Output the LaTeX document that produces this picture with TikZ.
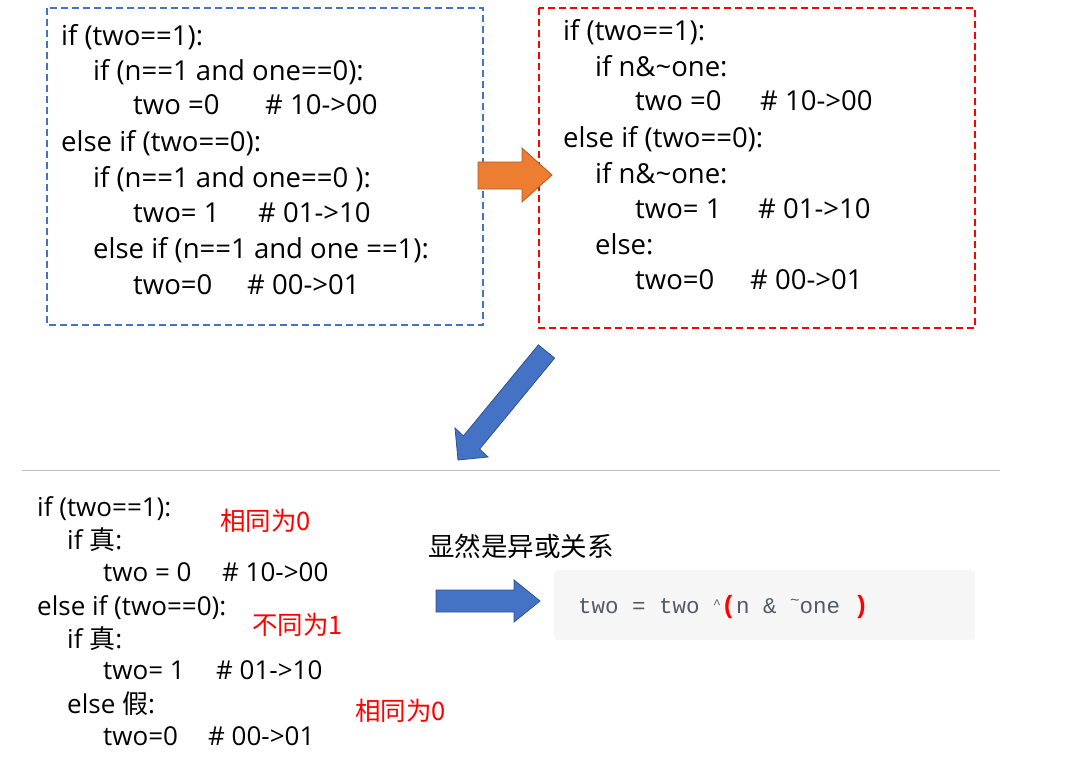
\documentclass[tikz,border=0pt]{standalone}
\usepackage{fontspec}
\setmainfont{Open Sans}
\newfontfamily\cjk{Noto Sans CJK SC}
\newfontfamily\codemono{Liberation Mono}
\definecolor{boxblue}{HTML}{4472C4}
\definecolor{arrblue}{HTML}{4472C4}
\definecolor{arredge}{HTML}{2F528F}
\definecolor{arrorange}{HTML}{ED7D31}
\definecolor{orangeedge}{HTML}{AE5A21}
\definecolor{codegray}{HTML}{F6F6F6}
\definecolor{codetext}{HTML}{555A60}
\begin{document}
\begin{tikzpicture}[x=1pt,y=-1pt,
  codeline/.style={anchor=base west,inner sep=0pt,font=\fontsize{27.5}{32}\selectfont},
  lowline/.style={anchor=base west,inner sep=0pt,font=\fontsize{26}{30}\selectfont},
  note/.style={anchor=base west,inner sep=0pt,text=red,font=\cjk\fontsize{25.5}{30}\selectfont},
  dashbox/.style={line width=1.6pt,dash pattern=on 7pt off 4pt},
  blockarrow/.style={line width=0.8pt}]
\useasboundingbox (0,0) rectangle (1070,765);
% top boxes
\draw[dashbox,boxblue] (47,8) rectangle (483,325);
\draw[dashbox,red] (539,8) rectangle (975,328);
% left box text
\node[codeline] (l1) at (61,46) {if (two==1):};
\node[codeline] (l2) at (93,81) {if (n==1 and one==0):};
\node[codeline] (l3) at (133,115) {two =0};
\node[codeline] (l3c) at (265,115) {\# 10->00};
\node[codeline] (l4) at (61,151) {else if (two==0):};
\node[codeline] (l5) at (93,187) {if (n==1 and one==0 ):};
\node[codeline] (l6) at (133,222) {two= 1};
\node[codeline] (l6c) at (258,222) {\# 01->10};
\node[codeline] (l7) at (93,258) {else if (n==1 and one ==1):};
\node[codeline] (l8) at (133,294) {two=0};
\node[codeline] (l8c) at (247,294) {\# 00->01};
% right box text
\node[codeline] (r1) at (563,41) {if (two==1):};
\node[codeline] (r2) at (595,77) {if n\&\textasciitilde one:};
\node[codeline] (r3) at (635,111) {two =0};
\node[codeline] (r3c) at (760,111) {\# 10->00};
\node[codeline] (r4) at (563,147) {else if (two==0):};
\node[codeline] (r5) at (595,183) {if n\&\textasciitilde one:};
\node[codeline] (r6) at (635,218) {two= 1};
\node[codeline] (r6c) at (758,218) {\# 01->10};
\node[codeline] (r7) at (595,254) {else:};
\node[codeline] (r8) at (635,289) {two=0};
\node[codeline] (r8c) at (750,289) {\# 00->01};
% orange arrow
\filldraw[blockarrow,fill=arrorange,draw=orangeedge] (478,162) -- (522,162) -- (522,148) -- (552,175) -- (522,202) -- (522,189) -- (478,189) -- cycle;
% diagonal arrow
\filldraw[blockarrow,fill=arrblue,draw=arredge] (538.4,344.9) -- (554.6,358.1) -- (479.6,449.1) -- (488,457) -- (458,460) -- (455,428) -- (463.4,435.9) -- cycle;
% separator
\draw[line width=0.6pt,black!25] (22,470) -- (1000,470);
% bottom text
\node[lowline] (b1) at (37,516) {if (two==1):};
\node[lowline] (b2) at (67,549) {if {\cjk 真}:};
\node[lowline] (b3) at (103,581) {two = 0};
\node[lowline] (b3c) at (222,581) {\# 10->00};
\node[lowline] (b4) at (37,615) {else if (two==0):};
\node[lowline] (b5) at (67,648) {if {\cjk 真}:};
\node[lowline] (b6) at (103,679) {two= 1};
\node[lowline] (b6c) at (216,679) {\# 01->10};
\node[lowline] (b7) at (67,713) {else {\cjk 假}:};
\node[lowline] (b8) at (103,745) {two=0};
\node[lowline] (b8c) at (208,745) {\# 00->01};
\node[note] (n1) at (220,530) {相同为0};
\node[note] (n2) at (252,634) {不同为1};
\node[note] (n3) at (355,720) {相同为0};
\node[lowline,font=\cjk\fontsize{26.5}{30}\selectfont] (obv) at (428,556) {显然是异或关系};
% blue right arrow
\filldraw[blockarrow,fill=arrblue,draw=arredge] (436,590) -- (514,590) -- (514,580) -- (540,601) -- (514,622) -- (514,612) -- (436,612) -- cycle;
% code box
\fill[codegray,rounded corners=3pt] (554,570) rectangle (975,640);
\node[anchor=base west,inner sep=0pt,text=codetext,font=\codemono\fontsize{22.5}{25}\selectfont] (code) at (578,613)
  {two = two \raisebox{5pt}{\fontsize{13}{16}\selectfont\textasciicircum}{\color{red}\bfseries\fontsize{25}{26}\selectfont(}n \& \raisebox{8pt}{\fontsize{16}{16}\selectfont\char"7E}one {\color{red}\bfseries\fontsize{25}{26}\selectfont)}};
\end{tikzpicture}
\end{document}
